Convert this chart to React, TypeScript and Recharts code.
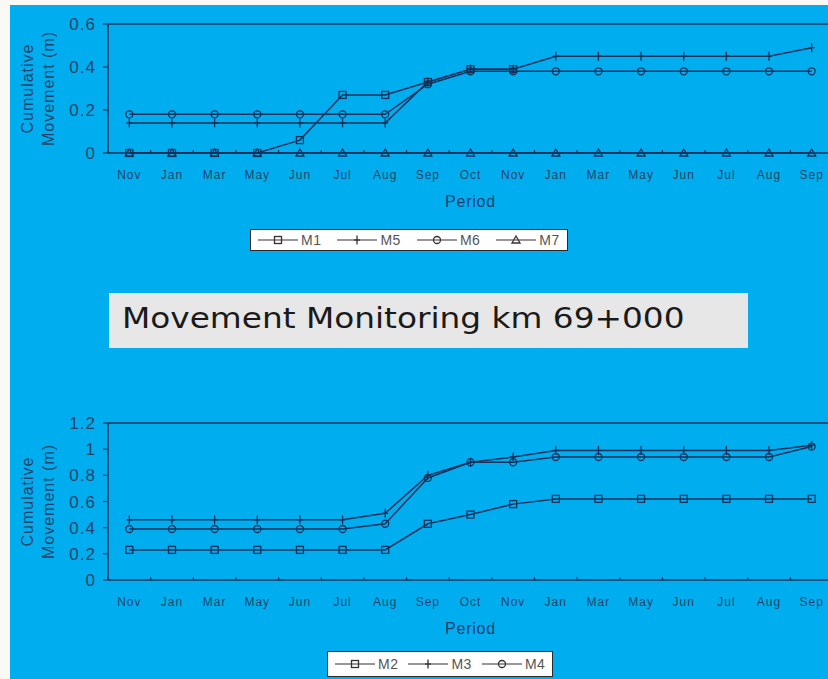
import React from 'react';
import { LineChart, Line, XAxis, YAxis, ReferenceLine, Legend } from 'recharts';

// Survey periods (two monitoring seasons)
const PERIODS = ['Nov', 'Jan', 'Mar', 'May', 'Jun', 'Jul', 'Aug', 'Sep', 'Oct', 'Nov', 'Jan', 'Mar', 'May', 'Jun', 'Jul', 'Aug', 'Sep'];

// Upper chart: M1, M5, M6, M7 (m)
const M1 = [0, 0, 0, 0, 0.06, 0.27, 0.27, 0.33, 0.39, 0.39, null, null, null, null, null, null, null];
const M5 = [0.14, 0.14, 0.14, 0.14, 0.14, 0.14, 0.14, 0.33, 0.39, 0.39, 0.45, 0.45, 0.45, 0.45, 0.45, 0.45, 0.49];
const M6 = [0.18, 0.18, 0.18, 0.18, 0.18, 0.18, 0.18, 0.32, 0.38, 0.38, 0.38, 0.38, 0.38, 0.38, 0.38, 0.38, 0.38];
const M7 = [0, 0, 0, 0, 0, 0, 0, 0, 0, 0, 0, 0, 0, 0, 0, 0, 0];

// Lower chart: M2, M3, M4 (m)
const M2 = [0.23, 0.23, 0.23, 0.23, 0.23, 0.23, 0.23, 0.43, 0.5, 0.58, 0.62, 0.62, 0.62, 0.62, 0.62, 0.62, 0.62];
const M3 = [0.46, 0.46, 0.46, 0.46, 0.46, 0.46, 0.51, 0.8, 0.9, 0.94, 0.99, 0.99, 0.99, 0.99, 0.99, 0.99, 1.03];
const M4 = [0.39, 0.39, 0.39, 0.39, 0.39, 0.39, 0.43, 0.78, 0.9, 0.9, 0.94, 0.94, 0.94, 0.94, 0.94, 0.94, 1.02];

const TOP_TICKS = [0, 0.2, 0.4, 0.6];
const BOTTOM_TICKS = [0, 0.2, 0.4, 0.6, 0.8, 1, 1.2];

const TITLE = 'Movement Monitoring km 69+000';

type Shape = 'square' | 'plus' | 'circle' | 'triangle';
const SHAPES: Record<string, Shape> = {
  M1: 'square', M5: 'plus', M6: 'circle', M7: 'triangle',
  M2: 'square', M3: 'plus', M4: 'circle',
};

const BLUE = '#00aeef';
const INK = '#17305a';
const TEXT = '#23436a';
const FONT = '"Liberation Sans", Arial, sans-serif';

const CHART_W = 860;
const RIGHT = 27;
const Y_W = 108;
const X_H = 56;
const BAND = (CHART_W - RIGHT - Y_W) / PERIODS.length;

const topRows = PERIODS.map((p, i) => ({ period: p, M1: M1[i], M5: M5[i], M6: M6[i], M7: M7[i] }));
const bottomRows = PERIODS.map((p, i) => ({ period: p, M2: M2[i], M3: M3[i], M4: M4[i] }));

function Marker({ shape, cx, cy, color }: { shape: Shape; cx: number; cy: number; color: string }) {
  const s = 1.3;
  if (shape === 'square') return <rect x={cx - 3.5} y={cy - 3.5} width={7} height={7} fill="none" stroke={color} strokeWidth={s} />;
  if (shape === 'plus')
    return (
      <g stroke={color} strokeWidth={s}>
        <line x1={cx} x2={cx} y1={cy - 4.5} y2={cy + 4.5} />
        <line x1={cx - 3} x2={cx + 3} y1={cy} y2={cy} />
      </g>
    );
  if (shape === 'circle') return <circle cx={cx} cy={cy} r={3.5} fill="none" stroke={color} strokeWidth={s} />;
  return <path d={`M${cx},${cy - 4}L${cx + 4},${cy + 3}L${cx - 4},${cy + 3}Z`} fill="none" stroke={color} strokeWidth={s} />;
}

const dotFor = (name: string) => (props: any) => {
  const { cx, cy, index } = props;
  if (cx == null || cy == null) return <g key={`${name}-${index}`} />;
  return (
    <g key={`${name}-${index}`}>
      <Marker shape={SHAPES[name]} cx={cx} cy={cy} color={INK} />
    </g>
  );
};

function PeriodTick(props: any) {
  const { x, y, payload } = props;
  return (
    <g>
      <line x1={x - BAND / 2} x2={x - BAND / 2} y1={y} y2={y - 3} stroke={INK} strokeWidth={1.2} />
      <text x={x} y={y} dy={26} textAnchor="middle" fill={TEXT} fontSize={12} fontFamily={FONT} style={{ letterSpacing: 1 }}>
        {payload.value}
      </text>
    </g>
  );
}

function YTitle(props: any) {
  const { viewBox } = props;
  const cy = viewBox.y + viewBox.height / 2;
  const common = { textAnchor: 'middle' as const, fill: TEXT, fontSize: 16, fontFamily: FONT, style: { letterSpacing: 1 } };
  return (
    <g>
      <text x={28} y={cy} dy={5} transform={`rotate(-90, 28, ${cy})`} {...common}>Cumulative</text>
      <text x={49} y={cy} dy={5} transform={`rotate(-90, 49, ${cy})`} {...common}>Movement (m)</text>
    </g>
  );
}

function LegendBox({ names, gap, boxH }: { names: string[]; gap: number; boxH: number }) {
  return (
    <div
      style={{
        display: 'flex', alignItems: 'center', gap, height: boxH, padding: '0 7px',
        background: '#fff', border: '1px solid #2a2a2a', fontFamily: FONT, fontSize: 14,
        color: '#555', whiteSpace: 'nowrap', letterSpacing: 0.5,
      }}
    >
      {names.map((n) => (
        <span key={n} style={{ display: 'flex', alignItems: 'center', gap: 3 }}>
          <svg width={40} height={12}>
            <line x1={0} x2={40} y1={6} y2={6} stroke="#333" strokeWidth={1.2} />
            <Marker shape={SHAPES[n]} cx={20} cy={6} color="#333" />
          </svg>
          <span>{n}</span>
        </span>
      ))}
    </div>
  );
}

function MovementChart({
  rows, names, ticks, top, plotH, legendLeft, legendTop, legendGap, legendH,
}: {
  rows: any[]; names: string[]; ticks: number[]; top: number; plotH: number;
  legendLeft: number; legendTop: number; legendGap: number; legendH: number;
}) {
  const max = ticks[ticks.length - 1];
  const bottom = 40;
  const height = 24 + plotH + X_H + bottom;
  return (
    <div style={{ position: 'absolute', left: 0, top }}>
      <LineChart width={CHART_W} height={height} data={rows} margin={{ top: 24, right: RIGHT, left: 0, bottom }}>
        <XAxis
          dataKey="period"
          interval={0}
          tickSize={0}
          tickMargin={0}
          padding={{ left: BAND / 2, right: BAND / 2 }}
          tick={<PeriodTick />}
          axisLine={{ stroke: INK, strokeWidth: 1.5 }}
          height={X_H}
          label={{ value: 'Period', position: 'insideBottom', offset: 2.5, fill: '#1d3c6e', fontSize: 16, fontFamily: FONT, style: { letterSpacing: 0.8 } }}
        />
        <YAxis
          width={Y_W}
          domain={[0, max]}
          ticks={ticks}
          interval={0}
          tickSize={5}
          tickMargin={7}
          tick={{ fill: TEXT, fontSize: 17, fontFamily: FONT, style: { letterSpacing: 1 } }}
          tickLine={{ stroke: INK, strokeWidth: 1.2 }}
          axisLine={{ stroke: INK, strokeWidth: 1.5 }}
          label={(p: any) => <YTitle {...p} />}
        />
        <ReferenceLine y={max} stroke={INK} strokeWidth={1.5} />
        <Legend
          layout="horizontal"
          verticalAlign="middle"
          align="center"
          wrapperStyle={{ left: legendLeft, top: legendTop, width: 'auto', height: 'auto' }}
          content={() => <LegendBox names={names} gap={legendGap} boxH={legendH} />}
        />
        {names.map((n) => (
          <Line
            key={n}
            type="linear"
            dataKey={n}
            name={n}
            stroke={INK}
            strokeWidth={1.5}
            dot={dotFor(n)}
            activeDot={false}
            isAnimationActive={false}
          />
        ))}
      </LineChart>
    </div>
  );
}

export default function App() {
  return (
    <div style={{ position: 'absolute', left: 0, top: 0, width: 828, height: 679, overflow: 'hidden', background: '#fbf9f5' }}>
      <div style={{ position: 'absolute', left: 10, top: 5, right: 0, bottom: 0, background: BLUE }} />
      <MovementChart
        rows={topRows} names={['M1', 'M5', 'M6', 'M7']} ticks={TOP_TICKS} top={0} plotH={129}
        legendLeft={250} legendTop={229} legendGap={16} legendH={20}
      />
      <div
        style={{
          position: 'absolute', left: 109, top: 293, width: 639, height: 55, background: '#e7e7e7',
          borderBottom: '1px solid #f2dede', boxSizing: 'border-box',
        }}
      >
        <span
          style={{
            position: 'absolute', left: 13, top: 0, lineHeight: '51px', fontFamily: '"DejaVu Sans", Verdana, sans-serif',
            fontSize: 28, color: '#1a1a1a', whiteSpace: 'nowrap', transform: 'scaleX(1.17)', transformOrigin: 'left center',
          }}
        >
          {TITLE}
        </span>
      </div>
      <MovementChart
        rows={bottomRows} names={['M2', 'M3', 'M4']} ticks={BOTTOM_TICKS} top={399} plotH={157}
        legendLeft={327} legendTop={252} legendGap={10} legendH={24}
      />
    </div>
  );
}
